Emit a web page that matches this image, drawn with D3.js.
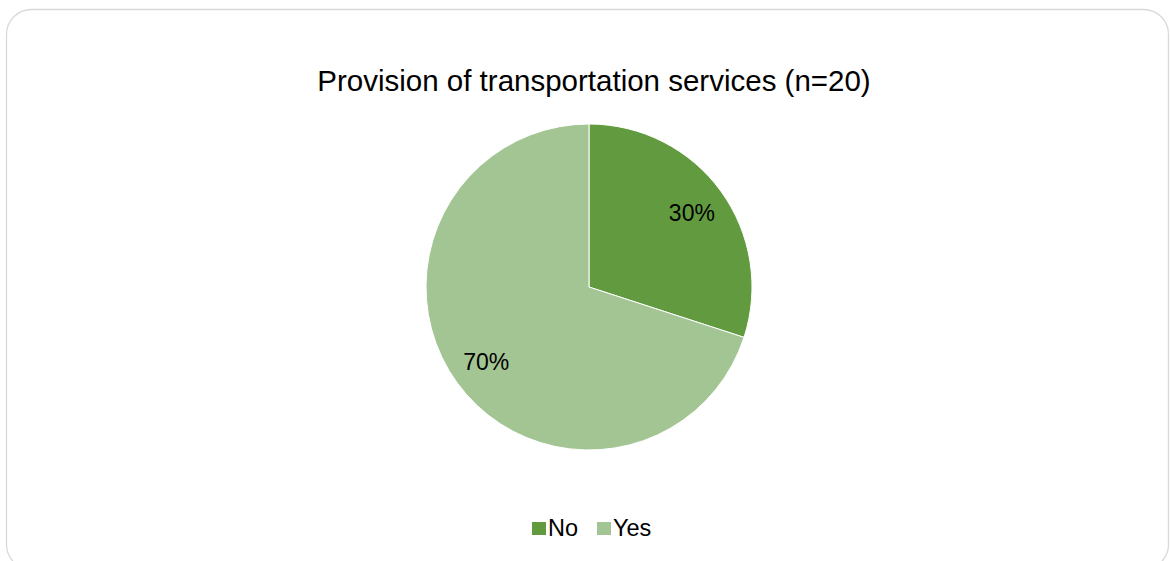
<!DOCTYPE html>
<html>
<head>
<meta charset="utf-8">
<script src="https://cdn.jsdelivr.net/npm/d3@7"></script>
<style>
  html, body { margin: 0; padding: 0; background: #ffffff; }
  svg { display: block; font-family: "Liberation Sans", Arial, sans-serif; }
</style>
</head>
<body>
<svg id="chart" width="1170" height="561"></svg>
<script>
// Survey answers: share of respondents providing transportation services
const categories = ["No", "Yes"];
const values = [30, 70];
const colors = ["#629B3F", "#A3C593"];
const title = "Provision of transportation services (n=20)";

const W = 1170, H = 561;
const svg = d3.select("#chart");

// Chart area frame
svg.append("rect")
  .attr("x", 6.5).attr("y", 9.5)
  .attr("width", 1162).attr("height", 560)
  .attr("rx", 25).attr("ry", 25)
  .attr("fill", "#ffffff")
  .attr("stroke", "#d9d9d9")
  .attr("stroke-width", 1.3);

svg.append("text")
  .attr("x", 594).attr("y", 91)
  .attr("text-anchor", "middle")
  .attr("font-size", 29.5)
  .attr("fill", "#000000")
  .text(title);

const cx = 589, cy = 287, R = 163;
const color = d3.scaleOrdinal().domain(categories).range(colors);

const pie = d3.pie().sort(null).value(d => d.value);
const arcs = pie(categories.map((c, i) => ({ cat: c, value: values[i] })));
const arc = d3.arc().innerRadius(0).outerRadius(R);
const labelArc = d3.arc().innerRadius(R * 0.78).outerRadius(R * 0.78);
const total = d3.sum(values);

const g = svg.append("g").attr("transform", `translate(${cx},${cy})`);
g.selectAll("path.slice")
  .data(arcs)
  .join("path")
  .attr("class", "slice")
  .attr("d", arc)
  .attr("fill", d => color(d.data.cat))
  .attr("stroke", "#ffffff")
  .attr("stroke-width", 1);

g.selectAll("text.pct")
  .data(arcs)
  .join("text")
  .attr("class", "pct")
  .attr("transform", d => `translate(${labelArc.centroid(d)})`)
  .attr("text-anchor", "middle")
  .attr("dy", "0.36em")
  .attr("font-size", 23)
  .attr("fill", "#000000")
  .text(d => Math.round(d.data.value / total * 100) + "%");

// Legend
const legend = svg.append("g");
const items = [
  { cat: "No", x: 532 },
  { cat: "Yes", x: 597 }
];
items.forEach(it => {
  legend.append("rect")
    .attr("x", it.x).attr("y", 522)
    .attr("width", 14).attr("height", 13)
    .attr("fill", color(it.cat));
  legend.append("text")
    .attr("x", it.x + 16).attr("y", 536)
    .attr("font-size", 23.5)
    .attr("fill", "#000000")
    .text(it.cat);
});
</script>
</body>
</html>
